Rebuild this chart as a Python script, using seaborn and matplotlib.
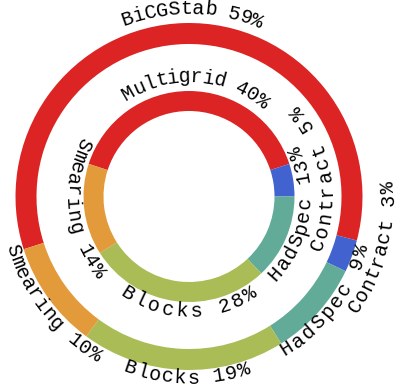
import numpy as np
import matplotlib
matplotlib.use("Agg")
import matplotlib.pyplot as plt
import seaborn as sns

# ---- data ----
outer_labels = ["BiCGStab", "Contract", "HadSpec", "Blocks", "Smearing"]
outer_values = [59, 3, 9, 19, 10]
inner_labels = ["Multigrid", "Contract", "HadSpec", "Blocks", "Smearing"]
inner_values = [40, 5, 13, 28, 14]
colors = ["#dc2424", "#4262cf", "#62ab98", "#a9bc55", "#e29a3a"]

sns.set_style("white")
plt.rcParams['font.family'] = ['Liberation Mono', 'DejaVu Sans Mono']

fig = plt.figure(figsize=(3.99, 3.88), dpi=100)
ax = fig.add_axes([0, 0, 1, 1])
CX, CY = 189.0, 191.5

outer_w, _ = ax.pie(outer_values, colors=colors, radius=173.5, center=(CX, CY),
                    startangle=197.7, counterclock=False,
                    wedgeprops=dict(width=21, linewidth=0))
inner_w, _ = ax.pie(inner_values, colors=colors, radius=105.5, center=(CX, CY),
                    startangle=162, counterclock=False,
                    wedgeprops=dict(width=20, linewidth=0))
ax.set_xlim(0, 399)
ax.set_ylim(0, 388)
ax.set_aspect('equal')
ax.axis('off')


def curved(text, theta_c, r_c, pitch, flip, size=14.5):
    n = len(text)
    for i, ch in enumerate(text):
        k = i - (n - 1) / 2
        if flip:
            th = theta_c + k * pitch
            rot = th + 90
            rb = r_c + 5.5
        else:
            th = theta_c - k * pitch
            rot = th - 90
            rb = r_c - 5.5
        t = np.deg2rad(th)
        ax.text(CX + rb * np.cos(t), CY + rb * np.sin(t), ch, rotation=rot,
                rotation_mode='anchor', ha='center', va='baseline',
                fontsize=size, color='black', fontweight='medium')


# layout per label: (flip, radius, pitch in degrees, angle offset from wedge middle)
outer_layout = [(False, 188, 3.68, -2.5), (True, 199, 3.6, 4.8), (True, 180.5, 4.44, 4.3),
                (True, 181.5, 4.05, 1.4), (True, 184, 3.85, 2.3)]
inner_layout = [(False, 120, 5.64, -3.6), (True, 137.5, 5.8, -0.5), (True, 116, 6.4, 13.8),
                (True, 115, 7.17, 7.2), (True, 117.5, 6.0, -0.7)]

for wedges, labels, values, layout in [(outer_w, outer_labels, outer_values, outer_layout),
                                       (inner_w, inner_labels, inner_values, inner_layout)]:
    for w, lab, val, (flip, r, p, off) in zip(wedges, labels, values, layout):
        mid = (w.theta1 + w.theta2) / 2
        curved(f"{lab} {val}%", mid + off, r, p, flip)

fig.savefig("out.png", dpi=100)
